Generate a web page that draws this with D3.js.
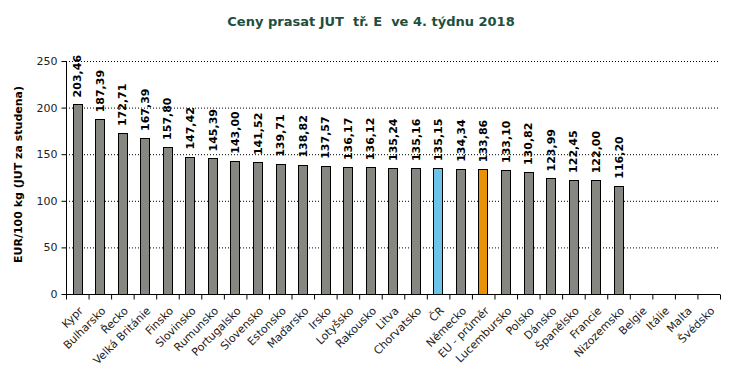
<!DOCTYPE html>
<html>
<head>
<meta charset="utf-8">
<script src="https://cdn.jsdelivr.net/npm/d3@7"></script>
<style>
  body { margin: 0; background: #fff; }
  svg { display: block; font-family: 'DejaVu Sans', Verdana, sans-serif; }
</style>
</head>
<body>
<div id="chart"></div>
<script>
// Data
const countries = ['Kypr', 'Bulharsko', 'Řecko', 'Velká Británie', 'Finsko', 'Slovinsko', 'Rumunsko',
    'Portugalsko', 'Slovensko', 'Estonsko', 'Maďarsko', 'Irsko', 'Lotyšsko', 'Rakousko', 'Litva',
    'Chorvatsko', 'ČR', 'Německo', 'EU - průměr', 'Lucembursko', 'Polsko', 'Dánsko', 'Španělsko',
    'Francie', 'Nizozemsko', 'Belgie', 'Itálie', 'Malta', 'Švédsko']
const prices = [203.46, 187.39, 172.71, 167.39, 157.80, 147.42, 145.39, 143.00, 141.52, 139.71,
    138.82, 137.57, 136.17, 136.12, 135.24, 135.16, 135.15, 134.34, 133.86, 133.10, 130.82,
    123.99, 122.45, 122.00, 116.20, null, null, null, null]
const yTicks = [0, 50, 100, 150, 200, 250]

// Constants
const width = 734
const height = 386
const margin = { top: 61, right: 14, bottom: 92, left: 66 }
const graphWidth = width - margin.left - margin.right
const graphHeight = height - margin.top - margin.bottom

const data = countries.map((c, i) => ({ country: c, price: prices[i] }))

const svg = d3.select('#chart')
    .append('svg')
    .attr('width', width)
    .attr('height', height)

// Title
svg.append('text')
    .attr('x', 371)
    .attr('y', 26)
    .attr('text-anchor', 'middle')
    .style('font-size', '13px')
    .style('font-weight', 'bold')
    .style('fill', '#1d4f3c')
    .style('white-space', 'pre')
    .text('Ceny prasat JUT  tř. E  ve 4. týdnu 2018')

const elementGroup = svg.append('g')
    .attr('transform', `translate(${margin.left}, ${margin.top})`)

// Scales
const x = d3.scaleBand()
    .domain(countries)
    .range([0, graphWidth])
    .paddingInner(0.58)
    .paddingOuter(0.29)

const xBound = d3.scaleLinear()
    .domain([0, countries.length])
    .range([0, graphWidth])

const y = d3.scaleLinear()
    .domain([0, 250])
    .range([graphHeight, 0])

// Gridlines
elementGroup.selectAll('.grid')
    .data(yTicks.filter(t => t > 0))
    .enter()
    .append('line')
    .attr('class', 'grid')
    .attr('x1', 0)
    .attr('x2', graphWidth)
    .attr('y1', d => y(d) + 0.5)
    .attr('y2', d => y(d) + 0.5)
    .style('stroke', '#000')
    .style('stroke-width', 1)
    .style('stroke-dasharray', '1,2')

// Bars
elementGroup.selectAll('.bar')
    .data(data.filter(d => d.price !== null))
    .enter()
    .append('rect')
    .attr('class', 'bar')
    .attr('x', d => Math.round(x(d.country)) + 0.5)
    .attr('y', d => Math.round(y(d.price)) + 0.5)
    .attr('width', Math.round(x.bandwidth()))
    .attr('height', d => graphHeight - Math.round(y(d.price)))
    .attr('fill', d => d.country === 'ČR' ? '#6cc4ea' : d.country === 'EU - průměr' ? '#ea9207' : '#878782')
    .attr('stroke', '#000')
    .attr('stroke-width', 1)

// Value labels
elementGroup.selectAll('.value')
    .data(data.filter(d => d.price !== null))
    .enter()
    .append('text')
    .attr('class', 'value')
    .attr('transform', d => `translate(${x(d.country) + x.bandwidth() / 2 + 4}, ${y(d.price) - 7}) rotate(-90)`)
    .style('font-size', '11px')
    .style('font-weight', 'bold')
    .style('fill', '#000')
    .text(d => d3.format('.2f')(d.price).replace('.', ','))

// Axes
const yAxis = d3.axisLeft(y)
    .tickValues(yTicks)
    .tickSize(5)
    .tickPadding(4)

const yAxisGroup = elementGroup.append('g')
    .attr('transform', 'translate(0.5, 0)')
    .call(yAxis)
yAxisGroup.select('.domain').attr('d', `M0,0V${graphHeight}`).style('stroke', '#000')
yAxisGroup.selectAll('line').style('stroke', '#000')
yAxisGroup.selectAll('text')
    .style('font-size', '11px')
    .style('font-family', "'DejaVu Sans', Verdana, sans-serif")
    .style('fill', '#222')

const xAxis = d3.axisBottom(xBound)
    .tickValues(d3.range(0, countries.length + 1))
    .tickSize(5)
    .tickFormat('')

const xAxisGroup = elementGroup.append('g')
    .attr('transform', `translate(0, ${graphHeight + 0.5})`)
    .call(xAxis)
xAxisGroup.select('.domain').attr('d', `M0,0H${graphWidth}`).style('stroke', '#000')
xAxisGroup.selectAll('line').style('stroke', '#000')

// Category labels
elementGroup.selectAll('.cat')
    .data(countries)
    .enter()
    .append('text')
    .attr('class', 'cat')
    .attr('transform', d => `translate(${x(d) + x.bandwidth() / 2 + 1}, ${graphHeight + 12}) rotate(-45)`)
    .attr('text-anchor', 'end')
    .attr('dy', '0.7em')
    .style('font-size', '11px')
    .style('fill', '#222')
    .text(d => d)

// Axis label
svg.append('text')
    .attr('transform', `translate(22, ${margin.top + graphHeight / 2 - 3}) rotate(-90)`)
    .attr('text-anchor', 'middle')
    .style('font-size', '11px')
    .style('font-weight', 'bold')
    .style('fill', '#000')
    .text('EUR/100 kg (JUT za studena)')
</script>
</body>
</html>
